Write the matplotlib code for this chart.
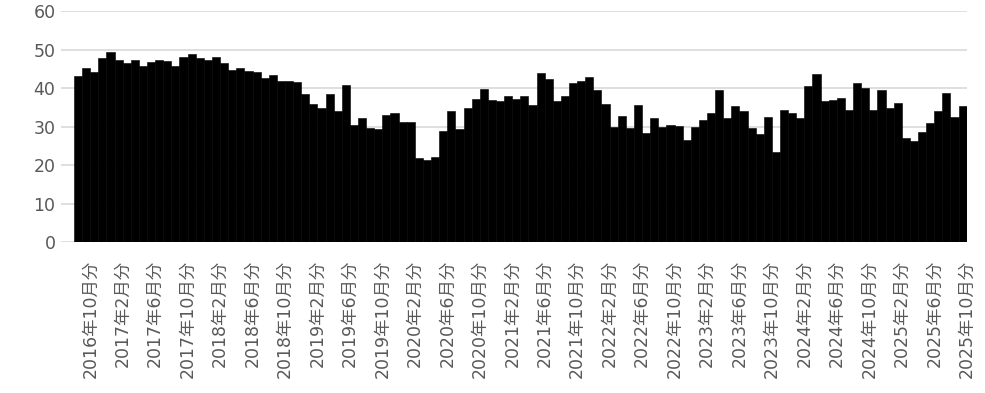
import matplotlib
matplotlib.use('Agg')
import matplotlib.pyplot as plt
import matplotlib.transforms as mtransforms

plt.rcParams['font.family'] = ['DejaVu Sans', 'Noto Sans CJK JP']

# monthly values, 2016年9月分 .. 2025年10月分
START_YEAR, START_MONTH = 2016, 9
values = [
    43.2, 45.3, 44.2, 47.7, 49.4, 47.2, 46.6, 47.4, 45.7, 46.8,
    47.4, 47.0, 45.7, 48.0, 48.9, 47.7, 47.2, 48.1, 46.6, 44.6,
    45.3, 44.3, 44.1, 42.6, 43.3, 41.9, 41.8, 41.5, 38.5, 35.9,
    34.7, 38.4, 34.1, 40.7, 30.5, 32.3, 29.6, 29.4, 32.9, 33.5,
    31.1, 31.3, 21.7, 21.4, 22.2, 28.8, 33.9, 29.3, 34.8, 37.2,
    39.8, 36.8, 36.7, 37.8, 37.1, 38.0, 35.5, 43.8, 42.3, 36.7,
    37.8, 41.4, 41.8, 42.9, 39.4, 35.8, 29.9, 32.8, 29.6, 35.5,
    28.4, 32.2, 29.9, 30.5, 30.1, 26.5, 29.9, 31.6, 33.6, 39.4,
    32.3, 35.4, 34.1, 29.5, 28.1, 32.4, 23.3, 34.2, 33.5, 32.3,
    40.5, 43.7, 36.7, 37.0, 37.5, 34.4, 41.3, 39.9, 34.4, 39.5,
    34.7, 36.2, 27.0, 26.2, 28.5, 30.9, 34.1, 38.6, 32.5, 35.3,
]

months = []
y, m = START_YEAR, START_MONTH
for _ in values:
    months.append(f'{y}年{m}月分')
    m += 1
    if m > 12:
        m = 1
        y += 1

# every 4th month is labelled, starting from 2016年10月分
tick_idx = list(range(1, len(months), 4))
tick_labels = [months[i] for i in tick_idx]

fig = plt.figure(figsize=(9.85, 3.93), dpi=100)
ax = fig.add_axes([0.0619, 0.3842, 0.9195, 0.5878])

x = range(len(values))
ax.bar(x, values, width=1.0, color='black', edgecolor='black',
       linewidth=0.4, zorder=3)

ax.set_xlim(-2.1, len(values) - 0.5)
ax.set_ylim(0, 60)
ax.set_yticks(range(0, 61, 10))
ax.set_xticks(tick_idx)
ax.set_xticklabels(tick_labels, rotation=90)

ax.grid(axis='y', color='#d9d9d9', linewidth=1.2)
ax.set_axisbelow(True)
for s in ax.spines.values():
    s.set_visible(False)

ax.tick_params(axis='both', length=0, labelsize=12.5, labelcolor='#595959')
ax.tick_params(axis='x', pad=13)
ax.tick_params(axis='y', pad=4)

# labels sit a little right of the bar centres in the original
shift = mtransforms.ScaledTranslation(4 / 100, 0, fig.dpi_scale_trans)
for lbl in ax.get_xticklabels():
    lbl.set_transform(lbl.get_transform() + shift)

fig.savefig('out.png', dpi=100)
